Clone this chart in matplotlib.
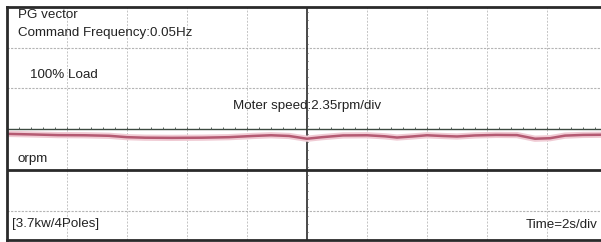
import matplotlib.pyplot as plt
import numpy as np

plt.rcParams['font.family'] = ['Liberation Sans', 'DejaVu Sans']

# scope settings
sec_per_div = 2.0
rpm_per_div = 2.35

# motor speed trace (time in s, speed in rpm)
t = [0, 0.8, 1.7, 2.6, 3.4, 4.0, 4.6, 5.5, 6.5, 7.4, 8.2, 8.8, 9.4, 10.0, 10.5,
     11.2, 12.0, 12.6, 13.0, 13.5, 14.0, 14.5, 15.0, 15.6, 16.3, 17.0, 17.6,
     18.1, 18.6, 19.2, 19.8]
speed = [2.08, 2.05, 2.01, 2.00, 1.97, 1.89, 1.86, 1.85, 1.86, 1.89, 1.96, 2.00,
         1.96, 1.80, 1.89, 1.99, 2.00, 1.94, 1.87, 1.93, 2.00, 1.96, 1.93, 1.99,
         2.02, 2.01, 1.80, 1.83, 1.98, 2.02, 2.03]

W, H = 601, 242
fig = plt.figure(figsize=(W / 100, H / 100), dpi=100)
ax = fig.add_axes([7 / W, 1 - 240 / H, (W - 7) / W, 233 / H])

xmax = 19.8
ymin, ymax = -1.72 * rpm_per_div, 4 * rpm_per_div
ax.set_xlim(0, xmax)
ax.set_ylim(ymin, ymax)
ax.set_xticks([])
ax.set_yticks([])
for s in ['left', 'top', 'bottom']:
    ax.spines[s].set_linewidth(2.0)
    ax.spines[s].set_color('#2a2a2a')
ax.spines['right'].set_visible(False)

# dashed grid
for gx in np.arange(sec_per_div, xmax, sec_per_div):
    if abs(gx - 5 * sec_per_div) < 1e-6:
        continue
    ax.axvline(gx, color='#c4c4c4', lw=0.7, ls=(0, (2, 1.5)))
for gy in [-rpm_per_div, 2 * rpm_per_div, 3 * rpm_per_div]:
    ax.axhline(gy, color='#b4b4b4', lw=0.8, ls=(0, (2, 1.2)))

# centre axes with small ticks
ax.axhline(rpm_per_div, color='#3d4a40', lw=1.0)
ax.axvline(5 * sec_per_div, color='#2a2a2a', lw=1.2)
ax.axhline(0, color='#2a2a2a', lw=2.0)
tx = np.arange(0.4, xmax, 0.4)
ax.plot(tx, np.full_like(tx, rpm_per_div + 0.06), ls='none', marker='|',
        ms=2, mew=0.7, color='#55605a')
ty = np.arange(ymin, ymax, rpm_per_div / 5)
ax.plot(np.full_like(ty, 5 * sec_per_div), ty, ls='none', marker='_',
        ms=2, mew=0.7, color='#555555')

# trace
ax.plot(t, speed, color='#f0cbd4', lw=4.5, solid_capstyle='round')
ax.plot(t, speed, color='#b45a72', lw=1.8, solid_capstyle='round')

# labels
kw = dict(fontsize=9.6, color='#222222', va='center')
fig.text(18 / W, 1 - 15 / H, 'PG vector', **kw)
fig.text(18 / W, 1 - 33 / H, 'Command Frequency:0.05Hz', **kw)
fig.text(30 / W, 1 - 75 / H, '100% Load', **kw)
fig.text(233 / W, 1 - 106 / H, 'Moter speed:2.35rpm/div', **kw)
fig.text(18 / W, 1 - 159 / H, 'orpm', **kw)
fig.text(12 / W, 1 - 224 / H, '[3.7kw/4Poles]', **kw)
fig.text(598 / W, 1 - 225 / H, 'Time=2s/div', ha='right', **kw)

fig.savefig('out.png', dpi=100)
